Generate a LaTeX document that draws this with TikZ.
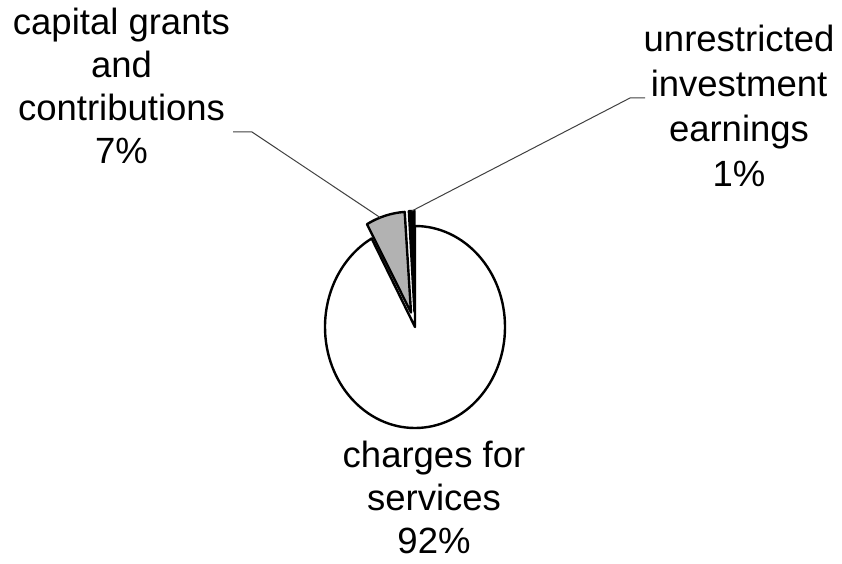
\documentclass[tikz,border=0pt]{standalone}
\usepackage{fontspec}
\setmainfont{Liberation Sans}
\usetikzlibrary{calc}
\begin{document}
\begin{tikzpicture}[x=1pt,y=1pt,
  pieedge/.style={draw=black,line width=2.4,line join=round},
  leader/.style={draw=black!75,line width=1},
  lbl/.style={inner sep=0,anchor=base,font=\fontsize{36.5}{43}\selectfont}]
\useasboundingbox (0,0) rectangle (842,563);
% centres
\coordinate (C) at (415,236);
\coordinate (Cg) at (411,250.5);
\coordinate (Cb) at (414.5,251);
% 92% slice
\path[pieedge,fill=white] (C) -- ++(90:101) arc[start angle=90,end angle=-241.2,x radius=90,y radius=101] -- cycle;
% 7% slice (exploded)
\path[pieedge,fill=black!30] (Cg) -- ++(93.6:100.8) arc[start angle=93.6,end angle=118.8,x radius=90,y radius=101] -- cycle;
% 1% slice (exploded)
\path[pieedge,fill=black] (Cb) -- ++(90:101) arc[start angle=90,end angle=93.6,x radius=90,y radius=101] -- cycle;
% labels
\node[lbl] (cg) at (121.5,528) {\begin{tabular}[t]{@{}c@{}}capital grants\\and\\contributions\\7\%\end{tabular}};
\node[lbl,font=\fontsize{36.5}{45}\selectfont] (ui) at (739,511) {\begin{tabular}[t]{@{}c@{}}unrestricted\\investment\\earnings\\1\%\end{tabular}};
\node[lbl] (cs) at (434,96) {\begin{tabular}[t]{@{}c@{}}charges for\\services\\92\%\end{tabular}};
% leader lines
\coordinate (cgA) at (233,431);
\coordinate (cgB) at (252,431);
\coordinate (cgT) at ($(Cg)+({90*cos(110)},{101*sin(110)})$);
\coordinate (uiA) at (645,465);
\coordinate (uiB) at (630,465);
\coordinate (uiT) at ($(Cb)+({90*cos(91.8)},{101*sin(91.8)})$);
\draw[leader] (cgA) -- (cgB) -- (cgT);
\draw[leader] (uiA) -- (uiB) -- (uiT);
\end{tikzpicture}
\end{document}
